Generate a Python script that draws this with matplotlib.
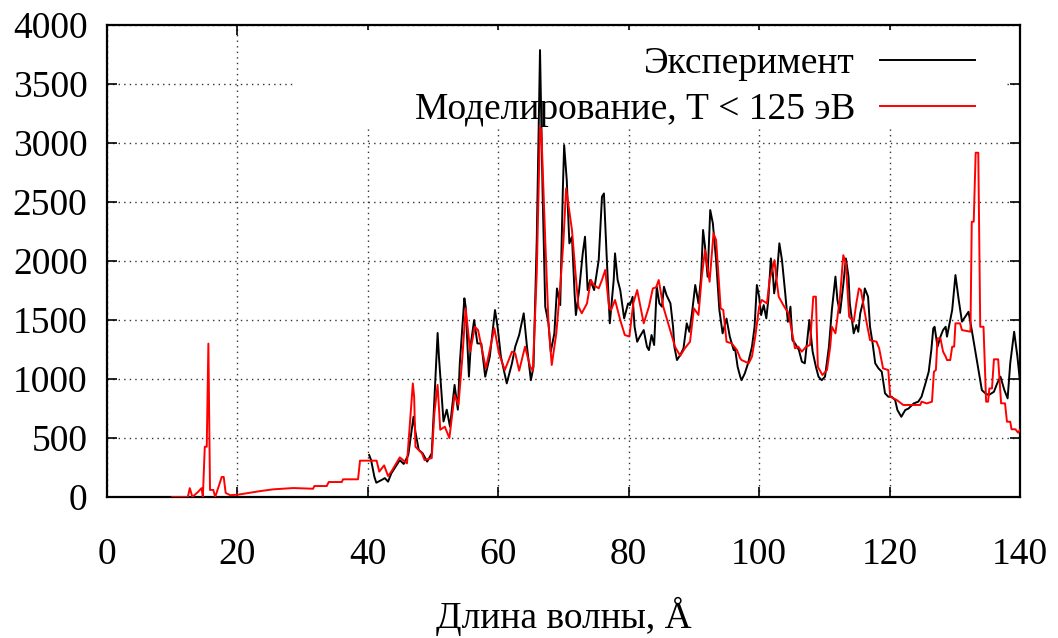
#!/usr/bin/env python3

import matplotlib.pyplot as plt
from matplotlib.patches import Rectangle
import numpy as np

plt.rcParams['font.family'] = ['Liberation Serif', 'DejaVu Serif']
plt.rcParams['font.size'] = 27

# experiment (black)
exp_x = [40.2, 40.5, 41.0, 41.3, 42.1, 42.6, 43.1, 43.6, 44.9, 45.5, 46.2, 47.0, 47.3, 47.8, 48.4,
         48.8, 49.1, 49.8, 50.2, 50.7, 50.9, 51.6, 52.1, 52.6, 53.3, 53.8, 54.1, 54.8, 55.0, 55.5,
         55.8, 56.3, 56.8, 57.4, 58.0, 58.7, 59.5, 59.9, 60.4, 61.3, 62.1, 62.6, 63.2, 63.9, 64.4,
         65.0, 65.4, 65.9, 66.4, 66.8, 67.2, 67.7, 68.05, 68.6, 69.0, 69.5, 69.9, 70.1, 70.5, 70.9,
         71.3, 71.7, 71.9, 72.4, 72.95, 73.3, 73.7, 74.1, 74.7, 75.4, 75.9, 76.2, 76.6, 77.1, 77.7,
         77.9, 78.3, 78.7, 79.3, 79.9, 80.2, 80.6, 80.9, 81.3, 81.7, 82.3, 82.8, 83.1, 83.5, 83.9,
         84.3, 84.7, 85.1, 85.4, 85.8, 86.4, 86.8, 87.0, 87.4, 87.9, 88.4, 88.9, 89.3, 89.7, 90.2,
         90.7, 91.1, 91.4, 91.7, 92.1, 92.5, 92.9, 93.4, 93.9, 94.4, 95.0, 95.5, 96.1, 96.3, 96.7,
         97.1, 97.3, 97.8, 98.3, 98.9, 99.3, 99.65, 100.0, 100.3, 100.7, 101.1, 101.4, 101.8, 102.1,
         102.3, 102.7, 103.1, 103.5, 104.0, 104.4, 104.8, 105.1, 105.5, 106.1, 106.55, 107.0, 107.7,
         108.2, 108.7, 109.1, 109.6, 110.1, 110.7, 111.15, 111.7, 112.0, 112.4, 112.9, 113.3, 113.7,
         113.9, 114.3, 114.5, 114.9, 115.2, 115.5, 116.0, 116.2, 116.7, 117.0, 117.4, 117.8, 118.3,
         118.8, 119.3, 119.8, 120.3, 120.85, 121.2, 121.8, 122.4, 122.9, 123.7, 124.4, 124.9, 125.5,
         126.0, 126.4, 126.7, 126.9, 127.35, 127.8, 128.2, 128.6, 128.8, 129.2, 129.6, 130.1, 130.6,
         131.1, 131.6, 132.1, 132.6, 134.15, 134.7, 135.2, 136.0, 136.5, 137.0, 137.6, 138.1, 138.5,
         139.1, 139.6, 140.0]
exp_y = [356, 313, 172, 121, 144, 160, 130, 200, 313, 280, 356, 680, 550, 400, 370,
         330, 300, 370, 820, 1390, 1190, 640, 740, 596, 950, 740, 1133, 1684, 1613, 1020,
         1302, 1500, 1302, 1300, 1020, 1190, 1585, 1440, 1190, 963, 1133, 1274, 1373, 1557, 1274,
         990, 1104, 2178, 3788, 2573, 1613, 1472, 1232, 1387, 1768, 1627, 2602, 2983, 2686, 2150,
         2206, 1726, 1542, 1754, 2065, 2206, 1754, 1840, 1754, 2008, 2545, 2573, 2065, 1472, 1840,
         2065, 1840, 1754, 1514, 1640, 1627, 1697, 1443, 1316, 1359, 1415, 1274, 1245, 1373, 1288,
         1782, 1641, 1613, 1782, 1711, 1641, 1443, 1274, 1161, 1203, 1260, 1472, 1400, 1557, 1797,
         1641, 1867, 2263, 2122, 1867, 2432, 2320, 2008, 1585, 1387, 1512, 1359, 1245, 1260, 1104,
         1020, 990, 1048, 1133, 1274, 1443, 1797, 1698, 1542, 1627, 1514, 1670, 2022, 1896,
         1726, 1868, 2150, 2008, 1726, 1485, 1613, 1330, 1302, 1245, 1147, 1133, 1500,
         1232, 1104, 1020, 990, 1020, 1274, 1585, 1868, 1670, 1560, 1800, 2022, 1868,
         1641, 1472, 1387, 1458, 1400, 1556, 1670, 1768, 1698, 1443, 1302, 1133, 1090,
         1062, 879, 850, 850, 822, 737, 680, 737, 750, 793, 808, 850, 963,
         1062, 1246, 1429, 1443, 1274, 1359, 1415, 1443, 1359, 1472, 1585, 1881, 1670,
         1486, 1528, 1570, 1415, 906, 878, 864, 892, 963, 1020, 906, 836, 1133,
         1401, 1190, 977]

# model, T < 125 eV (red)
mod_x = [10.0, 12.4, 12.7, 13.1, 14.0, 14.5, 14.7, 15.0, 15.3, 15.55, 15.8, 16.3, 16.6, 17.1, 17.6,
         17.9, 18.2, 18.9, 20.1, 23.5, 25.5, 28.6, 31.6, 31.8, 33.7, 34.0, 36.0, 36.2, 38.5, 38.8,
         41.35, 41.75, 42.5, 43.1, 43.6, 44.9, 46.0, 46.9, 47.1, 47.3, 48.3, 48.7, 49.8, 50.2, 50.7,
         51.1, 51.8, 52.5, 53.3, 53.9, 54.5, 55.0, 55.7, 56.4, 56.9, 58.1, 59.4, 60.1, 61.0, 62.1,
         62.6, 63.2, 64.1, 64.9, 65.3, 65.9, 66.4, 66.6, 67.2, 67.7, 68.2, 68.9, 69.5, 70.0, 70.4,
         70.8, 71.3, 71.8, 72.3, 72.8, 73.6, 74.2, 74.6, 75.4, 75.9, 76.4, 77.0, 77.3, 77.9, 78.7,
         79.4, 80.1, 80.7, 81.3, 82.3, 83.1, 83.7, 84.2, 84.6, 85.3, 86.35, 87.1, 87.9, 88.6, 89.4,
         90.0, 90.7, 91.2, 91.7, 92.4, 93.0, 93.4, 94.1, 94.5, 95.0, 95.8, 96.6, 97.1, 97.3, 98.4,
         98.9, 99.4, 100.0, 100.4, 101.2, 101.6, 102.0, 102.35, 102.6, 103.0, 103.7, 104.5, 105.5,
         106.0, 106.55, 107.2, 107.8, 108.3, 108.7, 109.0, 109.7, 110.4, 110.9, 111.15, 111.7, 112.4,
         112.9, 113.3, 113.8, 114.5, 114.9, 115.3, 115.6, 116.4, 117.0, 118.0, 118.4, 119.0, 119.8,
         120.1, 121.1, 122.1, 124.7, 124.9, 125.7, 126.5, 126.8, 127.1, 127.35, 127.8, 128.2, 128.6,
         128.8, 129.3, 129.6, 129.9, 130.1, 130.8, 131.1, 132.4, 132.6, 132.9, 133.2, 133.6, 133.9,
         134.4, 134.8, 135.1, 135.3, 135.7, 136.0, 136.65, 137.1, 137.7, 138.0, 138.5, 138.7, 139.3,
         139.7, 140.0]
mod_y = [0, 0, 75, 0, 45, 75, 0, 426, 426, 1300, 60, 60, 0, 85, 170,
         170, 35, 15, 20, 50, 65, 76, 70, 93, 93, 127, 127, 150, 150, 308,
         308, 215, 268, 178, 215, 336, 285, 963, 850, 426, 370, 313, 330, 710, 950,
         570, 596, 500, 865, 780, 1190, 1600, 1232, 1443, 1415, 1090, 1430, 1218, 1076, 1232,
         1218, 1070, 1274, 1104, 1070, 1896, 3138, 3110, 2178, 1472, 1119, 1387, 1782, 2178, 2616,
         2460, 2263, 1924, 1613, 1557, 1640, 1840, 1800, 1768, 1840, 1924, 1600, 1585, 1670, 1500,
         1373, 1360, 1641, 1754, 1472, 1613, 1768, 1777, 1839, 1613, 1415, 1274, 1197, 1260, 1316,
         1599, 1543, 1867, 2093, 1825, 2235, 2178, 1599, 1585, 1316, 1302, 1245, 1175, 1161, 1133,
         1190, 1359, 1613, 1670, 1641, 1840, 1924, 2008, 1868, 1698, 1627, 1556, 1260,
         1274, 1232, 1274, 1288, 1698, 1698, 1104, 1034, 1076, 1274, 1443, 1387, 1698,
         2050, 1980, 1528, 1486, 1641, 1768, 1754, 1500, 1330, 1316, 1260, 1090, 1076,
         850, 822, 780, 780, 808, 793, 808, 1062, 1076, 1345, 1345, 1232, 1190,
         1161, 1161, 1274, 1274, 1472, 1472, 1415, 1401, 2333, 2333, 2918, 2918, 1443,
         1443, 808, 808, 920, 920, 1167, 1167, 794, 794, 638, 638, 574, 574,
         545, 570]

fig = plt.figure(figsize=(10.58, 6.38), dpi=100)
ax = fig.add_axes([0.1011, 0.221, 0.863, 0.7397])
ax.set_axisbelow(True)

ax.plot(exp_x, exp_y, color='black', lw=1.4, label='Эксперимент', zorder=3)
ax.plot(mod_x, mod_y, color='#ff0000', lw=1.4, label='Моделирование, Т < 125 эВ', zorder=3)

ax.set_xlim(0, 140)
ax.set_ylim(0, 4000)
ax.set_xticks(np.arange(0, 141, 20))
ax.set_yticks(np.arange(0, 4001, 500))
ax.grid(True, color='#333333', linestyle=(0, (1, 3)), lw=1)
ax.tick_params(direction='in', top=True, right=True, length=7, width=1.2)
ax.tick_params(axis='x', pad=29)
ax.tick_params(axis='y', pad=14)
for s in ax.spines.values():
    s.set_linewidth(1.6)

# white box behind the key, over the grid
ax.add_patch(Rectangle((0.206, 0.782), 0.78, 0.208, transform=ax.transAxes,
                       facecolor='white', edgecolor='none', zorder=1))

leg = ax.legend(loc='upper right', bbox_to_anchor=(0.967, 0.986), frameon=False,
                markerfirst=False, handlelength=2.53, borderaxespad=0, borderpad=0.4,
                labelspacing=0.3, handletextpad=0.67)
leg.set_zorder(2)

ax.set_xlabel('Длина волны, Å', labelpad=18)

plt.savefig('out.png', dpi=100)
